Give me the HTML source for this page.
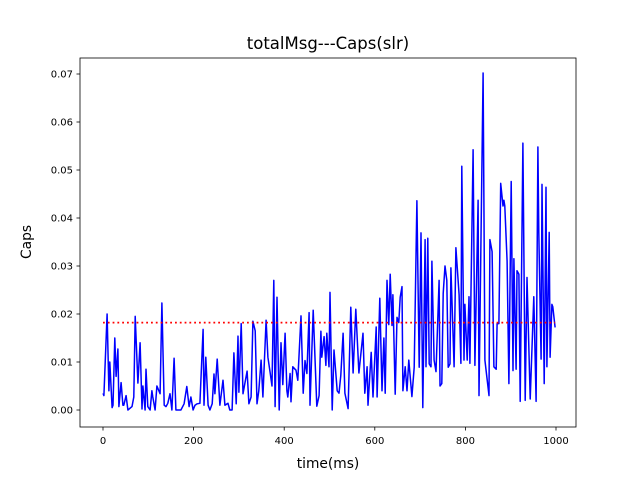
<!DOCTYPE html>
<html><head><meta charset="utf-8"><style>
body{margin:0;background:#fff}
svg text{font-family:"DejaVu Sans","Liberation Sans",sans-serif;fill:#000}
</style></head><body>
<svg id="chart" width="640" height="480" xmlns="http://www.w3.org/2000/svg">
<rect width="640" height="480" fill="#fff"/>
<text x="328" y="49" font-size="16.5" text-anchor="middle">totalMsg---Caps(slr)</text>
<text x="328" y="468" font-size="13.8" text-anchor="middle">time(ms)</text>
<text transform="translate(31,242) rotate(-90)" font-size="13.8" text-anchor="middle">Caps</text>
<g id="plot"></g>
</svg>
<script>
const times=[0,2,9,13,15,20,22,26,29,33,35,40,44,46,51,55,64,68,71,77,82,86,88,93,95,99,104,108,110,115,119,126,130,135,139,143,148,152,157,161,172,179,185,190,194,199,203,208,214,221,223,227,232,236,241,245,247,252,258,265,269,276,280,285,289,294,298,300,305,309,318,322,327,331,336,340,344,349,353,360,364,369,373,377,380,384,389,393,397,402,406,408,413,415,419,426,430,437,442,446,450,455,457,464,472,477,481,483,488,492,494,499,501,506,510,517,521,525,530,534,541,547,552,558,565,574,578,583,585,592,596,603,605,611,616,620,623,627,631,634,638,640,645,649,653,656,660,662,667,671,675,682,687,693,698,702,706,711,713,717,720,724,726,731,735,742,744,748,751,755,759,762,766,768,775,779,786,790,792,797,799,804,808,810,817,821,828,830,839,843,852,854,859,863,868,870,874,878,883,885,887,892,896,901,905,907,912,914,918,921,927,932,936,943,951,956,960,962,967,969,974,978,980,985,987,991,993,998];
const caps=[.0035,.003,.020,.004,.010,.0005,.001,.015,.007,.0127,.0007,.0057,.001,.001,.003,0,.0007,.0027,.0195,.0056,.014,.0002,.005,0,.0085,.0007,0,.004,.0027,0,.005,.0034,.0223,.001,.0007,.0014,.0034,0,.0108,0,0,.0013,.0049,.0007,.0027,0,.001,.0013,.0014,.0168,.001,.011,.001,0,.0013,.0075,.0034,.0106,.001,.0062,.001,.0014,0,0,.0119,.0013,.0154,.0037,.018,.0034,.0081,.0013,.0027,.0185,.0165,.0013,.004,.0104,.0027,.0187,.011,.0077,.005,.027,.0007,.0235,0,.014,.0053,.016,.004,.0027,.0076,.0017,.009,.0083,.0062,.0196,.0035,.0103,.0076,.0203,.001,.0208,.0008,.003,.0164,.011,.0153,.0093,.016,.009,.0245,0,.0125,.004,.0035,.0072,.016,.0035,.0003,.0214,.0077,.021,.0077,.016,.0035,.009,.001,.012,.0027,.0173,.0027,.0233,.004,.015,.0035,.027,.0178,.0283,.0176,.024,.0033,.0193,.0182,.0235,.0257,.004,.009,.004,.0104,.0028,.0089,.0436,.0089,.0369,.0005,.0355,.009,.0358,.0096,.009,.031,.0104,.008,.027,.005,.0055,.0243,.030,.027,.0089,.0096,.0296,.009,.0338,.024,.0097,.0508,.0104,.022,.0104,.0236,.0097,.0542,.0093,.0437,.003,.0702,.0104,.003,.0355,.033,.009,.0085,.018,.018,.0472,.0425,.0437,.0425,.031,.0055,.0476,.0082,.0315,.0085,.029,.0283,.0018,.0556,.002,.0276,.0023,.0236,.0018,.0548,.037,.0106,.047,.0055,.0464,.009,.037,.011,.022,.0215,.0172];
const meanValue=[0.0182];
const xTicks=[0,200,400,600,800,1000];
const yTicks=[0,0.01,0.02,0.03,0.04,0.05,0.06,0.07];
const yTickLabels=["0.00","0.01","0.02","0.03","0.04","0.05","0.06","0.07"];

const L=80,R=576,T=58,B=427;
const xs=v=>103+v*0.453;
const ys=v=>410-v*4800;
const NS="http://www.w3.org/2000/svg";
const g=document.getElementById('plot');
function mk(tag,attrs){const e=document.createElementNS(NS,tag);for(const k in attrs)e.setAttribute(k,attrs[k]);g.appendChild(e);return e;}

xTicks.forEach(t=>{
  const x=xs(t);
  const tk=mk('line',{x1:x,x2:x,y1:B,y2:B+3.5,stroke:'#000','stroke-width':0.8});
  
  
  const tx=mk('text',{x:x,y:B+17,'font-size':10,'text-anchor':'middle'});
  tx.textContent=t;
  
  
});
yTicks.forEach((t,i)=>{
  const y=ys(t);
  const tk=mk('line',{x1:L-3.5,x2:L,y1:y,y2:y,stroke:'#000','stroke-width':0.8});
  
  
  const tx=mk('text',{x:L-7,y:y+3.6,'font-size':10,'text-anchor':'end'});
  tx.textContent=yTickLabels[i];
  
  
});

const pts=times.map((t,i)=>xs(t).toFixed(1)+','+ys(caps[i]).toFixed(1)).join(' ');
const line=mk('polyline',{points:pts,fill:'none',stroke:'#0000ff','stroke-width':1.5,'stroke-linejoin':'round'});



const m=mk('line',{x1:xs(times[0]),x2:xs(times[times.length-1]),y1:ys(meanValue[0]),y2:ys(meanValue[0]),stroke:'#ff0000','stroke-width':1.8,'stroke-dasharray':'1.8,3'});



const frame=mk('rect',{x:L,y:T,width:R-L,height:B-T,fill:'none',stroke:'#000','stroke-width':0.8});


</script>
</body></html>
